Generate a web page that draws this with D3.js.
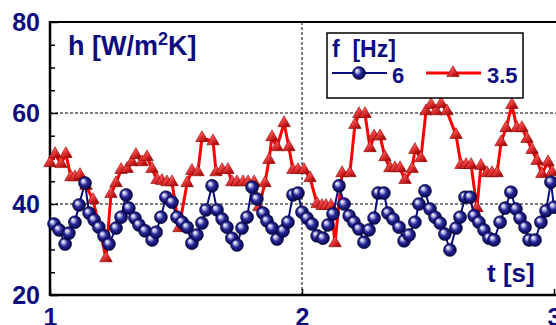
<!DOCTYPE html>
<html><head><meta charset="utf-8">
<script src="https://cdn.jsdelivr.net/npm/d3@7"></script>
<style>html,body{margin:0;padding:0;background:#fff;overflow:hidden}svg{display:block}</style>
</head><body>
<script>
// ---- data ----
const blueT = [1.016,1.036,1.060,1.075,1.099,1.115,1.139,1.155,1.175,1.194,1.214,1.234,1.262,1.282,1.302,1.313,1.337,1.353,1.377,1.405,
1.421,1.440,1.460,1.484,1.504,1.524,1.544,1.563,1.583,1.603,1.619,1.643,1.663,1.683,1.702,1.722,1.742,1.762,1.782,1.802,
1.821,1.845,1.861,1.881,1.901,1.925,1.944,1.964,1.984,2.000,2.020,2.040,2.060,2.083,2.103,2.123,2.147,2.167,2.187,2.206,
2.226,2.246,2.266,2.286,2.302,2.325,2.341,2.361,2.385,2.405,2.425,2.448,2.464,2.488,2.508,2.528,2.548,2.567,2.587,2.611,
2.627,2.647,2.667,2.683,2.702,2.722,2.742,2.762,2.786,2.806,2.829,2.849,2.865,2.885,2.901,2.925,2.948,2.968,2.988,3.000];
const blueH = [35.6,34.3,31.2,33.6,36.0,39.8,44.6,38.0,36.5,34.9,33.0,31.2,34.7,37.1,42.0,39.1,36.9,35.4,34.1,32.1,
33.8,37.1,41.5,40.4,37.1,36.0,34.9,31.4,33.2,35.8,38.7,44.0,38.7,36.7,34.9,32.5,31.0,34.7,37.1,43.7,
41.1,38.0,36.3,34.7,32.3,34.1,36.0,42.0,42.4,38.2,36.9,35.6,33.0,32.5,35.4,37.8,44.0,40.0,37.4,36.0,
34.5,31.6,34.3,36.9,42.4,42.4,38.0,36.7,34.9,31.9,33.2,36.0,40.0,42.9,38.9,37.1,35.8,33.4,29.9,34.7,
37.1,41.5,41.5,37.4,36.0,34.3,32.5,32.1,36.0,39.1,42.6,38.9,36.9,34.9,32.1,32.1,36.0,38.5,44.8,39.3];
const redT = [1.000,1.020,1.044,1.063,1.083,1.099,1.119,1.143,1.171,1.222,1.242,1.262,1.282,1.306,1.325,1.341,1.365,1.385,1.405,1.425,
1.444,1.464,1.484,1.512,1.544,1.563,1.587,1.603,1.647,1.659,1.683,1.706,1.722,1.742,1.766,1.786,1.810,1.829,1.853,1.869,
1.881,1.901,1.929,1.948,1.964,1.984,2.008,2.032,2.060,2.079,2.095,2.115,2.131,2.159,2.190,2.210,2.226,2.250,2.270,2.286,
2.310,2.329,2.349,2.369,2.389,2.409,2.437,2.448,2.472,2.492,2.512,2.532,2.552,2.575,2.611,2.631,2.651,2.671,2.694,2.710,
2.734,2.754,2.774,2.790,2.810,2.833,2.853,2.873,2.893,2.913,2.933,2.952,2.976,2.992];
const redH = [49.0,51.0,48.8,51.0,45.9,45.9,46.4,44.0,40.9,28.1,42.2,44.6,47.5,47.7,49.2,50.8,49.2,50.3,47.7,45.3,
45.1,44.8,44.8,34.7,44.6,47.3,47.0,54.5,53.8,47.0,47.5,47.5,44.8,44.8,44.8,44.8,44.8,39.3,44.6,49.7,
54.7,52.5,57.8,52.5,47.5,47.5,47.5,45.7,40.0,39.6,39.6,39.6,31.4,46.8,46.8,57.4,59.8,59.8,52.3,54.9,
54.9,50.3,47.9,47.9,47.9,45.3,47.7,51.9,50.1,60.4,61.8,60.4,62.0,60.4,55.2,48.6,48.6,48.6,39.1,48.4,
46.8,46.8,46.8,53.6,56.7,61.8,56.7,56.7,54.3,51.9,49.5,46.6,49.2,47.0];
const yTickLabels = [20,40,60,80];
const xTickLabels = [1,2,3];
const yMinor = [25,30,35,45,50,55,65,70,75];
const gridY = [40,60];
const gridX = [2];
const legendTitle = "f  [Hz]";
const seriesNames = ["6","3.5"];

// ---- layout ----
const W = 556, H = 325;
const L = 50, R = 554, T = 22, B = 295;
const navy = "#0c0c80";
const svg = d3.select("body").append("svg").attr("width", W).attr("height", H);
const x = d3.scaleLinear().domain([1,3]).range([L,R]);
const y = d3.scaleLinear().domain([20,80]).range([B,T]);

const defs = svg.append("defs");
const rg = defs.append("radialGradient").attr("id","ball").attr("cx","50%").attr("cy","50%").attr("r","55%").attr("fx","32%").attr("fy","30%");
rg.append("stop").attr("offset","0%").attr("stop-color","#ffffff");
rg.append("stop").attr("offset","22%").attr("stop-color","#b8b8e8");
rg.append("stop").attr("offset","50%").attr("stop-color","#2a2a9a");
rg.append("stop").attr("offset","85%").attr("stop-color","#0a0a5a");
rg.append("stop").attr("offset","100%").attr("stop-color","#000030");
const tg = defs.append("linearGradient").attr("id","tri").attr("x1","0%").attr("y1","0%").attr("x2","80%").attr("y2","100%");
tg.append("stop").attr("offset","0%").attr("stop-color","#ffd0d0");
tg.append("stop").attr("offset","35%").attr("stop-color","#ff5050");
tg.append("stop").attr("offset","100%").attr("stop-color","#a00000");

// grid
svg.append("g").selectAll("line.gy").data(gridY).join("line")
  .attr("x1",L).attr("x2",W).attr("y1",d=>y(d)).attr("y2",d=>y(d))
  .attr("stroke","#000").attr("stroke-width",1).attr("stroke-dasharray","3,2");
svg.append("g").selectAll("line.gx").data(gridX).join("line")
  .attr("x1",d=>x(d)).attr("x2",d=>x(d)).attr("y1",T).attr("y2",B)
  .attr("stroke","#000").attr("stroke-width",1).attr("stroke-dasharray","3,2");

// axes
const gl = svg.append("g").attr("transform",`translate(${L},0)`);
gl.call(d3.axisLeft(y).tickValues(yMinor).tickSize(-5).tickFormat(""));
const gl2 = svg.append("g").attr("transform",`translate(${L},0)`);
gl2.call(d3.axisLeft(y).tickValues(yTickLabels).tickSize(-8).tickPadding(18).tickFormat(d3.format("d")));
const gb = svg.append("g").attr("transform",`translate(0,${B})`);
gb.call(d3.axisBottom(x).tickValues(xTickLabels).tickSize(-6).tickPadding(18).tickFormat(d3.format("d")));
[gl,gl2,gb].forEach(g=>{
  g.select(".domain").remove();
  g.selectAll(".tick line").attr("stroke","#000").attr("stroke-width",1.5);
  g.selectAll("text").attr("fill",navy).attr("font-family","Liberation Sans, Arial, sans-serif")
   .attr("font-weight","bold").attr("font-size",25);
});
gl2.selectAll("text").attr("x",-10);
gb.selectAll("text").attr("y",13);
// frame
svg.append("line").attr("x1",L).attr("x2",W).attr("y1",T).attr("y2",T).attr("stroke","#000").attr("stroke-width",2);
svg.append("line").attr("x1",L).attr("x2",W).attr("y1",B).attr("y2",B).attr("stroke","#000").attr("stroke-width",2.5);
svg.append("line").attr("x1",L).attr("x2",L).attr("y1",T-1).attr("y2",B+1).attr("stroke","#000").attr("stroke-width",2.5);

// series
const redData = redT.map((t,i)=>[t,redH[i]]);
const blueData = blueT.map((t,i)=>[t,blueH[i]]);
const line = d3.line().x(d=>x(d[0])).y(d=>y(d[1]));
const tri = d3.symbol().type(d3.symbolTriangle).size(68);

svg.append("path").datum(redData).attr("d",line).attr("fill","none").attr("stroke","#ff0000").attr("stroke-width",3).attr("stroke-linejoin","round");
svg.append("g").selectAll("path").data(redData).join("path")
  .attr("d",tri).attr("transform",d=>`translate(${x(d[0])},${y(d[1])})`)
  .attr("fill","url(#tri)").attr("stroke","#8a0000").attr("stroke-width",0.6);

svg.append("path").datum(blueData).attr("d",line).attr("fill","none").attr("stroke",navy).attr("stroke-width",2);
svg.append("g").selectAll("circle").data(blueData).join("circle")
  .attr("cx",d=>x(d[0])).attr("cy",d=>y(d[1])).attr("r",6.5)
  .attr("fill","url(#ball)").attr("stroke","#000025").attr("stroke-width",0.5);

// titles
const tfont = "Liberation Sans, Arial, sans-serif";
const ttl = svg.append("text").attr("x",68).attr("y",55).attr("fill",navy).attr("font-family",tfont)
  .attr("font-weight","bold").attr("font-size",27);
ttl.append("tspan").text("h [W/m");
ttl.append("tspan").attr("font-size",18).attr("dy",-10).text("2");
ttl.append("tspan").attr("dy",10).text("K]");
svg.append("text").attr("x",487).attr("y",282).attr("fill",navy).attr("font-family",tfont)
  .attr("font-weight","bold").attr("font-size",26).text("t [s]");

// legend
const lg = svg.append("g");
lg.append("rect").attr("x",327).attr("y",33).attr("width",196).attr("height",65).attr("fill","#fff").attr("stroke","#000").attr("stroke-width",1.5);
lg.append("text").attr("x",332).attr("y",57).attr("fill",navy).attr("font-family",tfont).attr("font-weight","bold").attr("font-size",23)
  .attr("xml:space","preserve").style("white-space","pre").text(legendTitle);
const ly = 73;
lg.append("line").attr("x1",332).attr("x2",387).attr("y1",ly).attr("y2",ly).attr("stroke",navy).attr("stroke-width",2);
lg.append("circle").attr("cx",359).attr("cy",ly).attr("r",6.5).attr("fill","url(#ball)").attr("stroke","#000025").attr("stroke-width",0.5);
lg.append("text").attr("x",392).attr("y",83).attr("fill",navy).attr("font-family",tfont).attr("font-weight","bold").attr("font-size",22).text(seriesNames[0]);
lg.append("line").attr("x1",426).attr("x2",481).attr("y1",ly).attr("y2",ly).attr("stroke","#ff0000").attr("stroke-width",3);
lg.append("path").attr("d",tri).attr("transform",`translate(453,${ly})`).attr("fill","url(#tri)").attr("stroke","#8a0000").attr("stroke-width",0.6);
lg.append("text").attr("x",487).attr("y",83).attr("fill",navy).attr("font-family",tfont).attr("font-weight","bold").attr("font-size",22).text(seriesNames[1]);
</script>
</body></html>
